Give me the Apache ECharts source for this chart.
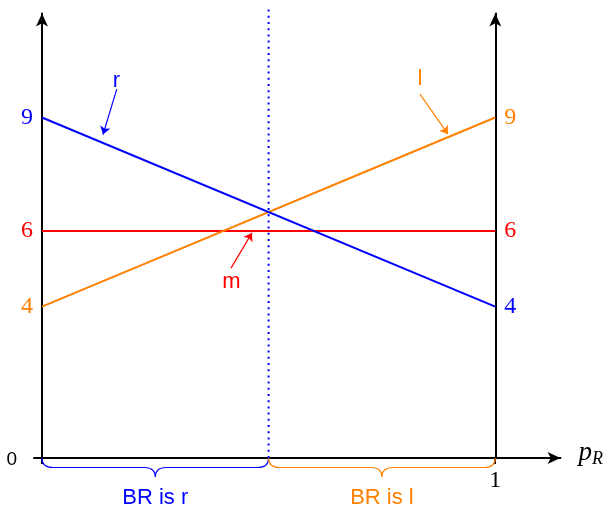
<!DOCTYPE html>
<html>
<head>
<meta charset="utf-8">
<script src="https://cdn.jsdelivr.net/npm/echarts@6/dist/echarts.min.js"></script>
<style>
  html, body { margin: 0; padding: 0; background: #fff; }
  #chart { width: 610px; height: 507px; }
</style>
</head>
<body>
<div id="chart"></div>
<script>
// Column player's payoff from each action as a function of p_R
const pR = [0, 1];
const payoffR = [9, 4];
const payoffL = [4, 9];
const payoffM = [6, 6];

// Where r and l cross: best-response switches there
const crossing = 0.5;
const crossingSpan = [0, 11.9];

// Tick labels
const leftTicks = [0, 4, 6, 9];
const rightTicks = [4, 6, 9];
const xTicks = [1];

// Best-response regions under the p_R axis
const regionFrom = [0, 0.5];
const regionTo = [0.5, 1];
const regionText = ['BR is r', 'BR is l'];

const BLUE = '#0000ff';
const ORANGE = '#ff8000';
const RED = '#ff0000';
const SERIF = 'Liberation Serif';
const SANS = 'Liberation Sans';

const regionColor = [BLUE, ORANGE];

// Rich-text styles for the payoff tick labels on each vertical axis
function digitStyle(color) {
  return { fontFamily: SERIF, fontSize: 24, color: color };
}
const leftRich = {
  c9: digitStyle(BLUE), c6: digitStyle(RED), c4: digitStyle(ORANGE),
  c0: { fontFamily: SANS, fontSize: 19, color: '#000', padding: [4, 16, 0, 0] }
};
const rightRich = { c9: digitStyle(ORANGE), c6: digitStyle(RED), c4: digitStyle(BLUE) };
const tickText = (v) => `{c${v}|${v}}`;

const toXY = (xs, ys) => xs.map((x, i) => [x, ys[i]]);

// Curly brace under the axis between two p_R values, with its caption
function renderBrace(params, api) {
  const i = api.value(2);
  const a = api.coord([api.value(0), 0]);
  const b = api.coord([api.value(1), 0]);
  const y = a[1], x0 = a[0], x1 = b[0], xm = (x0 + x1) / 2;
  const h = 9.5, r = 11;
  const d = `M${x0},${y} Q${x0},${y + h} ${x0 + r},${y + h} L${xm - r},${y + h} ` +
            `Q${xm},${y + h} ${xm},${y + 2 * h} Q${xm},${y + h} ${xm + r},${y + h} ` +
            `L${x1 - r},${y + h} Q${x1},${y + h} ${x1},${y}`;
  const color = regionColor[i];
  return {
    type: 'group',
    children: [
      { type: 'path', shape: { pathData: d }, style: { fill: null, stroke: color, lineWidth: 1.2 } },
      { type: 'text', x: xm, y: y + 40,
        style: { text: regionText[i], fill: color, fontFamily: SANS, fontSize: 22, align: 'center', verticalAlign: 'middle' } }
    ]
  };
}

// Small pointer from a letter to its line
function pointer(from, to, color) {
  return [
    { coord: from, symbol: 'none' },
    { coord: to, symbol: 'arrow', symbolSize: 8, lineStyle: { color: color, width: 1.2, type: 'solid' } }
  ];
}
function tag(text, at, color) {
  return {
    coord: at, symbol: 'circle', symbolSize: 0,
    label: { show: true, position: 'inside', formatter: text, color: color, fontFamily: SANS, fontSize: 22 }
  };
}

const chart = echarts.init(document.getElementById('chart'), null, { renderer: 'canvas' });

const yAxisBase = {
  type: 'value', min: 0, max: 11.75,
  splitLine: { show: false },
  axisTick: { show: false },
  axisLine: {
    show: true, onZero: false,
    symbol: ['none', 'arrow'], symbolSize: [9, 13],
    lineStyle: { color: '#000', width: 2 }
  }
};

chart.setOption({
  animation: false,
  grid: { left: 34, right: 49.5, top: 13.5, bottom: 49, containLabel: false },
  xAxis: {
    type: 'value', min: -0.0176, max: 1.144,
    splitLine: { show: false },
    axisLine: {
      show: true, onZero: false,
      symbol: ['none', 'arrow'], symbolSize: [9, 13],
      lineStyle: { color: '#000', width: 2 }
    },
    axisTick: { show: true, customValues: [0, 1], length: 6, lineStyle: { color: '#000', width: 2 } },
    axisLabel: {
      customValues: xTicks, margin: 11,
      formatter: (v) => `{d|${v}}`,
      rich: { d: { fontFamily: SERIF, fontSize: 24, color: '#000' } }
    },
    name: '{p|p}{s|R}',
    nameLocation: 'end',
    nameGap: 18,
    nameTextStyle: {
      padding: [0, 0, 6, 0],
      rich: {
        p: { fontFamily: SERIF, fontStyle: 'italic', fontSize: 27, lineHeight: 27, color: '#000', verticalAlign: 'bottom', padding: [0, 0, 2, 0] },
        s: { fontFamily: SERIF, fontStyle: 'italic', fontSize: 18, lineHeight: 18, color: '#000', verticalAlign: 'bottom' }
      }
    }
  },
  yAxis: [
    Object.assign({}, yAxisBase, {
      position: 'left', offset: -8,
      axisLabel: { customValues: leftTicks, margin: 9, formatter: tickText, rich: leftRich }
    }),
    Object.assign({}, yAxisBase, {
      position: 'right', offset: -65.2,
      axisLabel: { customValues: rightTicks, margin: 9, formatter: tickText, rich: rightRich }
    })
  ],
  series: [
    {
      name: 'crossing', type: 'line', clip: false, silent: true,
      data: crossingSpan.map(y => [crossing, y]),
      symbol: 'none',
      lineStyle: { color: BLUE, width: 2, type: [2, 4.2], cap: 'butt' },
      z: 1
    },
    {
      name: 'm', type: 'line', data: toXY(pR, payoffM), symbol: 'none', silent: true,
      lineStyle: { color: RED, width: 2 },
      markLine: {
        silent: true, animation: false, label: { show: false },
        data: [pointer([0.417, 5.02], [0.4633, 5.95], RED)]
      },
      markPoint: { silent: true, animation: false, data: [tag('m', [0.418, 4.65], RED)] },
      z: 2
    },
    {
      name: 'l', type: 'line', data: toXY(pR, payoffL), symbol: 'none', silent: true,
      lineStyle: { color: ORANGE, width: 2 },
      markLine: {
        silent: true, animation: false, label: { show: false },
        data: [pointer([0.834, 9.62], [0.8957, 8.56], ORANGE)]
      },
      markPoint: { silent: true, animation: false, data: [tag('l', [0.834, 10.03], ORANGE)] },
      z: 3
    },
    {
      name: 'r', type: 'line', data: toXY(pR, payoffR), symbol: 'none', silent: true,
      lineStyle: { color: BLUE, width: 2 },
      markLine: {
        silent: true, animation: false, label: { show: false },
        data: [pointer([0.165, 9.75], [0.1346, 8.55], BLUE)]
      },
      markPoint: { silent: true, animation: false, data: [tag('r', [0.164, 9.98], BLUE)] },
      z: 4
    },
    {
      name: 'regions', type: 'custom', silent: true, clip: false,
      renderItem: renderBrace,
      encode: { x: [0, 1], y: 2 },
      data: regionFrom.map((f, i) => [f, regionTo[i], i]),
      z: 5
    }
  ]
});
</script>
</body>
</html>
